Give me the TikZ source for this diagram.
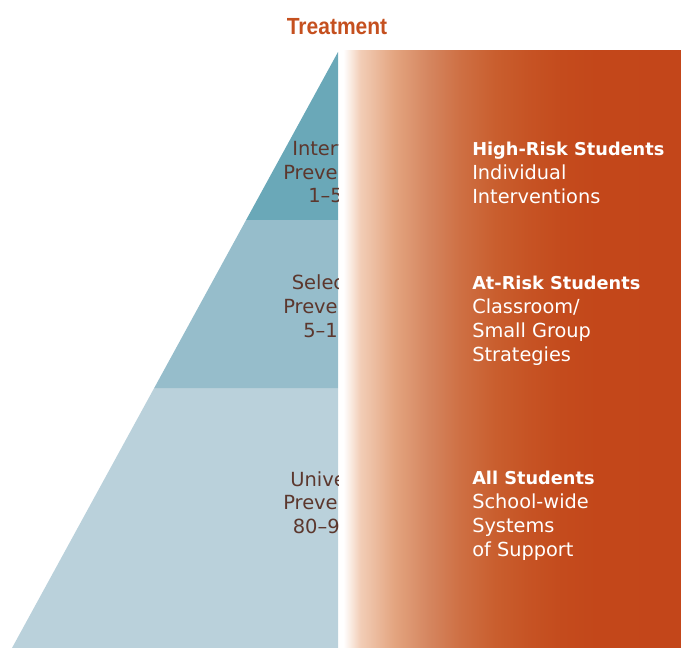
\documentclass[tikz,border=0pt]{standalone}
\usepackage{fontspec}
\setmainfont{DejaVu Sans}
\newfontfamily\treatfont{Liberation Sans}
\definecolor{tierA}{HTML}{6AA8B8}
\definecolor{tierB}{HTML}{96BDCB}
\definecolor{tierC}{HTML}{BAD1DB}
\definecolor{orng}{HTML}{C3461A}
\definecolor{txtbrown}{HTML}{5C372D}
\definecolor{treat}{HTML}{C5501F}
\definecolor{gA}{HTML}{F2CDB6}
\definecolor{gB}{HTML}{E3A47F}
\definecolor{gC}{HTML}{D58660}
\definecolor{gD}{HTML}{CE6F43}
\definecolor{gE}{HTML}{C95E2E}
\definecolor{gF}{HTML}{C65324}
\definecolor{gG}{HTML}{C44B1D}
\definecolor{gH}{HTML}{C3471A}
\pgfdeclarehorizontalshading{orangefade}{100bp}{color(0bp)=(white); color(25bp)=(white); color(25.5bp)=(white); color(28bp)=(gA); color(33bp)=(gB); color(37.9bp)=(gC); color(42.75bp)=(gD); color(47.8bp)=(gE); color(52.7bp)=(gF); color(57.5bp)=(gG); color(62.6bp)=(gH); color(75bp)=(orng); color(100bp)=(orng)}
\tikzset{
  pyrline/.style={inner sep=0pt, anchor=base west, text=txtbrown, font=\fontsize{14.6}{18}\selectfont},
  sidetext/.style={inner sep=0pt, anchor=north west, align=left, text=white, font=\fontsize{14.5}{18}\selectfont},
  headfont/.style={font=\fontsize{17.5}{18}\selectfont\treatfont\bfseries, text=treat, inner sep=0pt, anchor=base}
}
\newcommand{\sidehead}[1]{{\fontsize{13.3}{18}\selectfont\bfseries #1}}
\begin{document}
\begin{tikzpicture}[x=0.75pt,y=-0.75pt]
\useasboundingbox (0,0) rectangle (681,648);
% pyramid tiers
\fill[tierC] (12,648) -- (154.2,388) -- (338,388) -- (338,648) -- cycle;
\fill[tierB] (154.2,388) -- (246.1,220) -- (338,220) -- (338,388) -- cycle;
\fill[tierA] (246.1,220) -- (338,52) -- (338,220) -- cycle;
% pyramid labels (cut off at the pyramid's right edge)
\begin{scope}
\clip (0,0) rectangle (338,648);
\node[pyrline] (t1) at (292,156) {Intervention};
\node[pyrline] (t2) at (283,179.5) {Prevention};
\node[pyrline] (t3) at (308,203) {1–5\%};
\node[pyrline] (m1) at (291.5,290) {Selected};
\node[pyrline] (m2) at (283,313.5) {Prevention};
\node[pyrline] (m3) at (303,337.5) {5–10\%};
\node[pyrline] (b1) at (290,486) {Universal};
\node[pyrline] (b2) at (283,509.5) {Prevention};
\node[pyrline] (b3) at (292.5,533.5) {80–90\%};
\end{scope}
% gradient panel
\shade[shading=orangefade] (340,51) rectangle (681,648);
% title
\node[headfont] (title) at (337,34.5) {\scalebox{0.9}[1]{Treatment}};
% side labels
\node[sidetext] (high) at (472,138.2) {\strut\sidehead{High-Risk Students}\\Individual\\Interventions};
\node[sidetext] (atrisk) at (472,272.2) {\strut\sidehead{At-Risk Students}\\Classroom/\\Small Group\\Strategies};
\node[sidetext] (all) at (472,467.2) {\strut\sidehead{All Students}\\School-wide\\Systems\\of Support};
\end{tikzpicture}
\end{document}
